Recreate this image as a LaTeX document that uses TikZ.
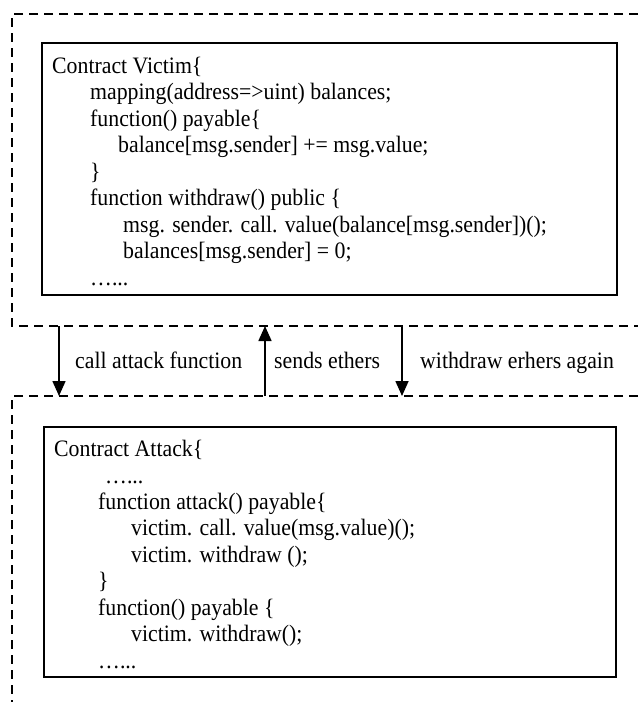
\documentclass[tikz,border=0pt]{standalone}
\usepackage{fontspec}
\setmainfont{Liberation Serif}
\usetikzlibrary{arrows.meta}
\newcommand{\tallcode}[1]{\scalebox{1}[1.08]{#1}}
\begin{document}
\begin{tikzpicture}[x=1pt,y=-1pt,
  dashline/.style={line width=1.4pt, dash pattern=on 9pt off 6pt},
  codebox/.style={draw, line width=1.4pt, rectangle, inner sep=0pt},
  code/.style={anchor=base west, inner sep=0pt, font=\fontsize{21.8pt}{26pt}\selectfont},
  flow/.style={line width=1.6pt, -{Triangle[length=15pt,width=13pt]}}]
\useasboundingbox (0,0) rectangle (638,702);
% dashed regions
\draw[dashline] (638,14) -- (12,14) -- (12,326) -- (638,326);
\draw[dashline] (638,396) -- (12,396) -- (12,702);
% boxes
\node[codebox, minimum width=575pt, minimum height=252pt] (victim) at (329.5,169) {};
\node[codebox, minimum width=572pt, minimum height=250pt] (attack) at (330,552) {};
% victim code
\node[code] (v1) at (52,73) {\tallcode{Contract Victim\{}};
\node[code] (v2) at (90,99.5) {\tallcode{mapping(address=>uint) balances;}};
\node[code] (v3) at (90,126) {\tallcode{function() payable\{}};
\node[code] (v4) at (118,152.5) {\tallcode{balance[msg.sender] += msg.value;}};
\node[code] (v5) at (90,179) {\tallcode{\}}};
\node[code] (v6) at (90,205.5) {\tallcode{function withdraw() public \{}};
\node[code] (v7) at (123,232) {\tallcode{msg. sender. call. value(balance[msg.sender])();}};
\node[code] (v8) at (123,258.5) {\tallcode{balances[msg.sender] = 0;}};
\node[code] (v9) at (90,285) {\tallcode{…...}};
% attack code
\node[code] (a1) at (54,456) {\tallcode{Contract Attack\{}};
\node[code] (a2) at (105,483) {\tallcode{…...}};
\node[code] (a3) at (98,509) {\tallcode{function attack() payable\{}};
\node[code] (a4) at (131,535) {\tallcode{victim. call. value(msg.value)();}};
\node[code] (a5) at (131,562) {\tallcode{victim. withdraw ();}};
\node[code] (a6) at (98,588) {\tallcode{\}}};
\node[code] (a7) at (98,615) {\tallcode{function() payable \{}};
\node[code] (a8) at (131,641) {\tallcode{victim. withdraw();}};
\node[code] (a9) at (98,668) {\tallcode{…...}};
% arrows
\coordinate (t1) at (59,326);
\coordinate (b1) at (59,396);
\coordinate (t2) at (265,326);
\coordinate (b2) at (265,396);
\coordinate (t3) at (402,326);
\coordinate (b3) at (402,396);
\draw[flow] (t1) -- (b1);
\draw[flow] (b2) -- (t2);
\draw[flow] (t3) -- (b3);
\node[code] (l1) at (75,368) {\tallcode{call attack function}};
\node[code] (l2) at (274,368) {\tallcode{sends ethers}};
\node[code] (l3) at (420,368) {\tallcode{withdraw erhers again}};
\end{tikzpicture}
\end{document}
